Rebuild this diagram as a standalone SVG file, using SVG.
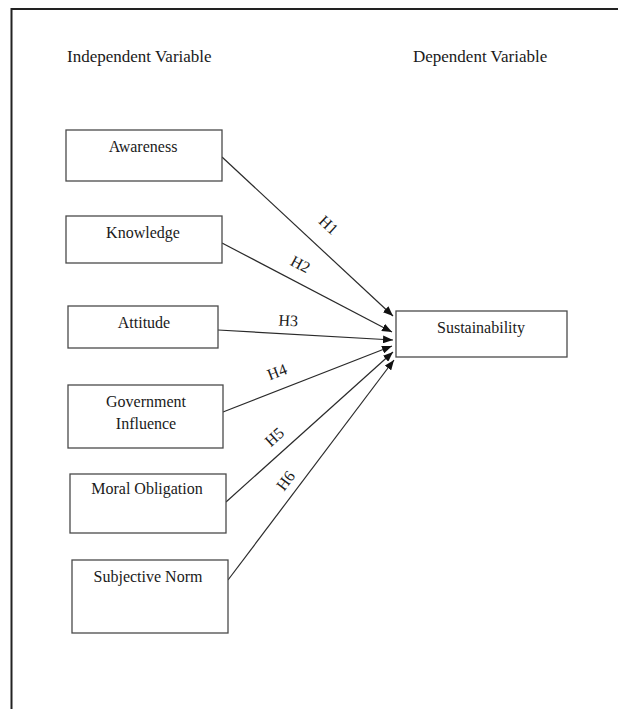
<svg xmlns="http://www.w3.org/2000/svg" width="618" height="709" viewBox="0 0 618 709">
<style>
  text { font-family: "Liberation Serif", "Times New Roman", serif; font-size: 16px; fill: #1a1a1a; }
  .hdr { font-size: 17px; }
  .box { fill: #ffffff; stroke: #4a4a4a; stroke-width: 1.3; }
  .edge { stroke: #2a2a2a; stroke-width: 1.2; fill: none; marker-end: url(#arrow); }
  .mid { text-anchor: middle; }
</style>
<defs>
  <marker id="arrow" markerUnits="userSpaceOnUse" markerWidth="10" markerHeight="8" refX="10" refY="4" orient="auto">
    <path d="M0,0 L10,4 L0,8 z" fill="#111111"/>
  </marker>
</defs>
<rect x="0" y="0" width="618" height="709" fill="#ffffff"/>
<path d="M11.5,709 V9 H618" fill="none" stroke="#222222" stroke-width="2"/>
<g id="headers">
  <text class="hdr" x="67" y="62">Independent Variable</text>
  <text class="hdr" x="413" y="62">Dependent Variable</text>
</g>
<g id="connectors">
  <line class="edge" x1="222" y1="157" x2="393" y2="316"/>
  <line class="edge" x1="222" y1="243" x2="392" y2="332"/>
  <line class="edge" x1="218" y1="330" x2="393" y2="340"/>
  <line class="edge" x1="223" y1="412" x2="392" y2="346"/>
  <line class="edge" x1="226" y1="502" x2="393" y2="352"/>
  <line class="edge" x1="228" y1="580" x2="394" y2="360"/>
  <text class="mid" transform="translate(325,229) rotate(43)">H1</text>
  <text class="mid" transform="translate(298,269) rotate(28)">H2</text>
  <text class="mid" transform="translate(288,326) rotate(3)">H3</text>
  <text class="mid" transform="translate(279,377) rotate(-21)">H4</text>
  <text class="mid" transform="translate(278,441) rotate(-42)">H5</text>
  <text class="mid" transform="translate(290,484) rotate(-53)">H6</text>
</g>
<g id="awareness">
  <rect class="box" x="66" y="130" width="156" height="51"/>
  <text class="mid" x="143" y="152">Awareness</text>
</g>
<g id="knowledge">
  <rect class="box" x="66" y="216" width="156" height="47"/>
  <text class="mid" x="143" y="238">Knowledge</text>
</g>
<g id="attitude">
  <rect class="box" x="68" y="306" width="150" height="42"/>
  <text class="mid" x="144" y="328">Attitude</text>
</g>
<g id="government-influence">
  <rect class="box" x="68" y="385" width="155" height="63"/>
  <text class="mid" x="146" y="407">Government</text>
  <text class="mid" x="146" y="429">Influence</text>
</g>
<g id="moral-obligation">
  <rect class="box" x="70" y="474" width="156" height="59"/>
  <text class="mid" x="147" y="494">Moral Obligation</text>
</g>
<g id="subjective-norm">
  <rect class="box" x="72" y="560" width="156" height="73"/>
  <text class="mid" x="148" y="582">Subjective Norm</text>
</g>
<g id="sustainability">
  <rect class="box" x="396" y="311" width="171" height="46"/>
  <text class="mid" x="481" y="333">Sustainability</text>
</g>
</svg>
